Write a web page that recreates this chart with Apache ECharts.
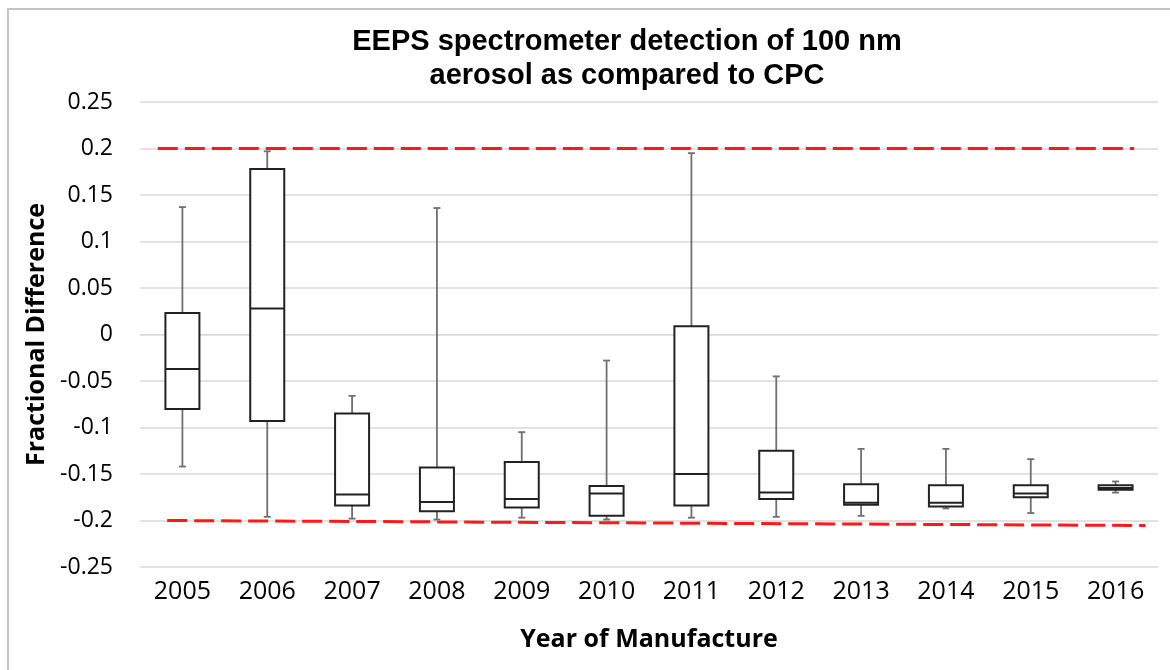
<!DOCTYPE html>
<html>
<head>
<meta charset="utf-8">
<script src="https://cdn.jsdelivr.net/npm/echarts@6/dist/echarts.min.js"></script>
<style>
  html, body { margin: 0; padding: 0; background: #fff; }
  #chart { width: 1170px; height: 670px; }
</style>
</head>
<body>
<div id="chart"></div>
<script>
// year of manufacture
var years = ['2005', '2006', '2007', '2008', '2009', '2010', '2011', '2012', '2013', '2014', '2015', '2016'];
// box plot stats
var whiskerHigh = [0.137, 0.197, -0.066, 0.136, -0.105, -0.028, 0.195, -0.045, -0.123, -0.123, -0.134, -0.158];
var q3 = [0.023, 0.178, -0.085, -0.143, -0.137, -0.163, 0.009, -0.125, -0.161, -0.162, -0.162, -0.162];
var median = [-0.037, 0.028, -0.172, -0.180, -0.177, -0.171, -0.150, -0.170, -0.181, -0.181, -0.171, -0.165];
var q1 = [-0.080, -0.093, -0.184, -0.190, -0.186, -0.195, -0.184, -0.177, -0.183, -0.185, -0.175, -0.167];
var whiskerLow = [-0.142, -0.196, -0.198, -0.199, -0.197, -0.199, -0.197, -0.196, -0.195, -0.187, -0.192, -0.170];

// red limit lines, [category position, value]
var upperLimit = [[-0.29, 0.2], [11.22, 0.2]];
var lowerLimit = [[-0.18, -0.2], [11.35, -0.2054]];

var boxData = [];
years.forEach(function (y, i) {
  boxData.push([i, whiskerLow[i], q1[i], median[i], q3[i], whiskerHigh[i]]);
});

var myChart = echarts.init(document.getElementById('chart'));

function renderBox(params, api) {
  var x = api.value(0);
  var pLow = api.coord([x, api.value(1)]);
  var pQ1 = api.coord([x, api.value(2)]);
  var pMed = api.coord([x, api.value(3)]);
  var pQ3 = api.coord([x, api.value(4)]);
  var pHigh = api.coord([x, api.value(5)]);
  var cx = pLow[0];
  var half = 17;
  var cap = 3.5;
  var whisk = { stroke: '#6f6f6f', lineWidth: 1.8 };
  var dark = { stroke: '#222', lineWidth: 2 };
  return {
    type: 'group',
    children: [
      { type: 'line', shape: { x1: cx, y1: pHigh[1], x2: cx, y2: pQ3[1] }, style: whisk },
      { type: 'line', shape: { x1: cx, y1: pQ1[1], x2: cx, y2: pLow[1] }, style: whisk },
      { type: 'line', shape: { x1: cx - cap, y1: pHigh[1], x2: cx + cap, y2: pHigh[1] }, style: whisk },
      { type: 'line', shape: { x1: cx - cap, y1: pLow[1], x2: cx + cap, y2: pLow[1] }, style: whisk },
      { type: 'rect', shape: { x: cx - half, y: pQ3[1], width: half * 2, height: pQ1[1] - pQ3[1] },
        style: { fill: '#fff', stroke: '#222', lineWidth: 2 } },
      { type: 'line', shape: { x1: cx - half, y1: pMed[1], x2: cx + half, y2: pMed[1] }, style: dark }
    ]
  };
}

myChart.setOption({
  backgroundColor: '#fff',
  animation: false,
  graphic: [
    { type: 'rect', shape: { x: 8, y: 9, width: 1200, height: 700 },
      style: { fill: 'none', stroke: '#c4c4c4', lineWidth: 2 } },
    { type: 'text', x: 627, y: 42,
      style: { text: 'EEPS spectrometer detection of 100 nm', fill: '#000',
        font: 'bold 29px "Liberation Sans", Arial, sans-serif', textAlign: 'center', textVerticalAlign: 'middle' } },
    { type: 'text', x: 627, y: 76,
      style: { text: 'aerosol as compared to CPC', fill: '#000',
        font: 'bold 29px "Liberation Sans", Arial, sans-serif', textAlign: 'center', textVerticalAlign: 'middle' } }
  ],
  grid: { left: 140, right: 12, top: 102, bottom: 103 },
  xAxis: [
    {
      type: 'category',
      data: years,
      name: 'Year of Manufacture',
      nameLocation: 'middle',
      nameGap: 60,
      nameTextStyle: { fontFamily: 'Open Sans', fontWeight: 'bold', fontSize: 25, color: '#000' },
      axisLine: { show: true, lineStyle: { color: '#d9d9d9', width: 1 } },
      axisTick: { show: false },
      axisLabel: { fontFamily: 'Open Sans', fontSize: 25, color: '#000', margin: 12 },
      splitLine: { show: false }
    },
    { type: 'value', min: -0.5, max: 11.5, show: false }
  ],
  yAxis: {
    type: 'value',
    min: -0.25,
    max: 0.25,
    interval: 0.05,
    name: 'Fractional Difference',
    nameLocation: 'middle',
    nameGap: 89,
    nameTextStyle: { fontFamily: 'Open Sans', fontWeight: 'bold', fontSize: 25, color: '#000' },
    axisLine: { show: false },
    axisTick: { show: false },
    axisLabel: { fontFamily: 'Open Sans', fontSize: 23, color: '#000', margin: 27 },
    splitLine: { lineStyle: { color: '#d9d9d9', width: 1.5 } }
  },
  series: [
    {
      type: 'custom',
      xAxisIndex: 0,
      renderItem: renderBox,
      encode: { x: 0, y: [1, 2, 3, 4, 5] },
      data: boxData,
      z: 3
    },
    {
      type: 'line',
      xAxisIndex: 1,
      data: upperLimit,
      symbol: 'none',
      lineStyle: { color: '#ff1a1a', width: 3, type: [20, 7] },
      z: 2
    },
    {
      type: 'line',
      xAxisIndex: 1,
      data: lowerLimit,
      symbol: 'none',
      lineStyle: { color: '#ff1a1a', width: 3, type: [20, 7] },
      z: 2
    }
  ]
});
</script>
</body>
</html>
